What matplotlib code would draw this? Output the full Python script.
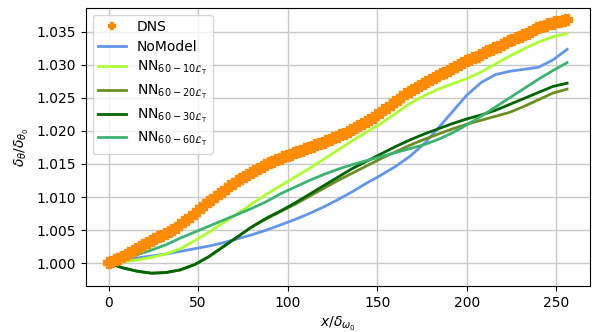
import numpy as np
import matplotlib
matplotlib.use("Agg")
import matplotlib.pyplot as plt

# streamwise stations
x_dns = np.arange(0, 257, 2)
x_les = np.arange(0, 257, 8)

# momentum thickness growth, DNS reference
dns = [1.0000, 1.0002, 1.0005, 1.0007, 1.0010, 1.0013, 1.0016, 1.0019, 1.0022, 1.0025,
       1.0028, 1.0031, 1.0034, 1.0036, 1.0039, 1.0041, 1.0044, 1.0047, 1.0051, 1.0054,
       1.0058, 1.0062, 1.0066, 1.0070, 1.0075, 1.0079, 1.0083, 1.0088, 1.0092, 1.0096,
       1.0100, 1.0104, 1.0108, 1.0112, 1.0116, 1.0120, 1.0124, 1.0128, 1.0131, 1.0134,
       1.0137, 1.0140, 1.0143, 1.0146, 1.0148, 1.0151, 1.0153, 1.0156, 1.0158, 1.0160,
       1.0162, 1.0164, 1.0166, 1.0168, 1.0170, 1.0172, 1.0174, 1.0176, 1.0178, 1.0180,
       1.0182, 1.0184, 1.0186, 1.0189, 1.0191, 1.0194, 1.0196, 1.0199, 1.0201, 1.0204,
       1.0207, 1.0210, 1.0213, 1.0217, 1.0220, 1.0224, 1.0227, 1.0231, 1.0235, 1.0239,
       1.0243, 1.0247, 1.0251, 1.0255, 1.0259, 1.0262, 1.0265, 1.0268, 1.0271, 1.0274,
       1.0277, 1.0280, 1.0283, 1.0286, 1.0288, 1.0291, 1.0294, 1.0297, 1.0300, 1.0302,
       1.0305, 1.0307, 1.0310, 1.0312, 1.0315, 1.0317, 1.0320, 1.0322, 1.0325, 1.0327,
       1.0330, 1.0332, 1.0335, 1.0337, 1.0340, 1.0342, 1.0345, 1.0347, 1.0350, 1.0352,
       1.0355, 1.0357, 1.0359, 1.0361, 1.0362, 1.0364, 1.0365, 1.0366, 1.0367]

no_model = [1.0000, 1.0004, 1.0008, 1.0011, 1.0014, 1.0018, 1.0022, 1.0026,
            1.0031, 1.0037, 1.0043, 1.0050, 1.0058, 1.0066, 1.0075, 1.0085,
            1.0096, 1.0108, 1.0121, 1.0133, 1.0146, 1.0161, 1.0180, 1.0204,
            1.0229, 1.0254, 1.0273, 1.0285, 1.0290, 1.0293, 1.0296, 1.0307,
            1.0323]

nn_10 = [1.0000, 1.0002, 1.0005, 1.0009, 1.0014, 1.0022, 1.0034, 1.0047,
         1.0061, 1.0075, 1.0090, 1.0104, 1.0117, 1.0130, 1.0143, 1.0157,
         1.0171, 1.0185, 1.0198, 1.0211, 1.0226, 1.0241, 1.0253, 1.0263,
         1.0271, 1.0279, 1.0289, 1.0301, 1.0313, 1.0324, 1.0334, 1.0342,
         1.0347]

nn_20 = [1.0000, 0.9993, 0.9988, 0.9985, 0.9986, 0.9990, 0.9998, 1.0010,
         1.0025, 1.0040, 1.0055, 1.0067, 1.0078, 1.0089, 1.0101, 1.0113,
         1.0125, 1.0136, 1.0147, 1.0158, 1.0168, 1.0178, 1.0187, 1.0195,
         1.0203, 1.0210, 1.0216, 1.0222, 1.0228, 1.0237, 1.0247, 1.0257,
         1.0263]

nn_30 = [1.0000, 0.9993, 0.9988, 0.9985, 0.9986, 0.9990, 0.9998, 1.0010,
         1.0025, 1.0040, 1.0055, 1.0068, 1.0079, 1.0091, 1.0104, 1.0117,
         1.0130, 1.0143, 1.0154, 1.0165, 1.0176, 1.0186, 1.0195, 1.0203,
         1.0211, 1.0218, 1.0224, 1.0231, 1.0240, 1.0249, 1.0258, 1.0267,
         1.0272]

nn_60 = [1.0000, 1.0006, 1.0013, 1.0020, 1.0028, 1.0038, 1.0047, 1.0056,
         1.0065, 1.0074, 1.0083, 1.0093, 1.0105, 1.0115, 1.0125, 1.0134,
         1.0142, 1.0149, 1.0155, 1.0161, 1.0167, 1.0173, 1.0179, 1.0187,
         1.0197, 1.0209, 1.0222, 1.0236, 1.0250, 1.0264, 1.0278, 1.0291,
         1.0303]

fig = plt.figure(figsize=(5.93, 3.32), dpi=100)
ax = fig.add_axes([0.1445, 0.139, 0.8505, 0.838])

ax.plot(x_dns, dns, 'P', color='darkorange', markersize=6.5, markeredgewidth=1.6,
        label='DNS', zorder=3)
ax.plot(x_les, no_model, color='cornflowerblue', lw=2, label='NoModel')
ax.plot(x_les, nn_10, color='greenyellow', lw=2, label=r'NN$_{60-10\mathcal{L}_{\rm T}}$')
ax.plot(x_les, nn_20, color='olivedrab', lw=2, label=r'NN$_{60-20\mathcal{L}_{\rm T}}$')
ax.plot(x_les, nn_30, color='darkgreen', lw=2, label=r'NN$_{60-30\mathcal{L}_{\rm T}}$')
ax.plot(x_les, nn_60, color='mediumseagreen', lw=2, label=r'NN$_{60-60\mathcal{L}_{\rm T}}$')

ax.set_xlabel(r'$x/\delta_{\omega_0}$')
ax.set_ylabel(r'$\delta_\theta/\delta_{\theta_0}$')
ax.set_xticks([0, 50, 100, 150, 200, 250])
ax.grid(True, color='#c8c8c8', lw=1)
ax.set_axisbelow(True)
ax.legend(loc='upper left', labelspacing=0.4, markerscale=0.7)

fig.savefig('out.png', dpi=100)
